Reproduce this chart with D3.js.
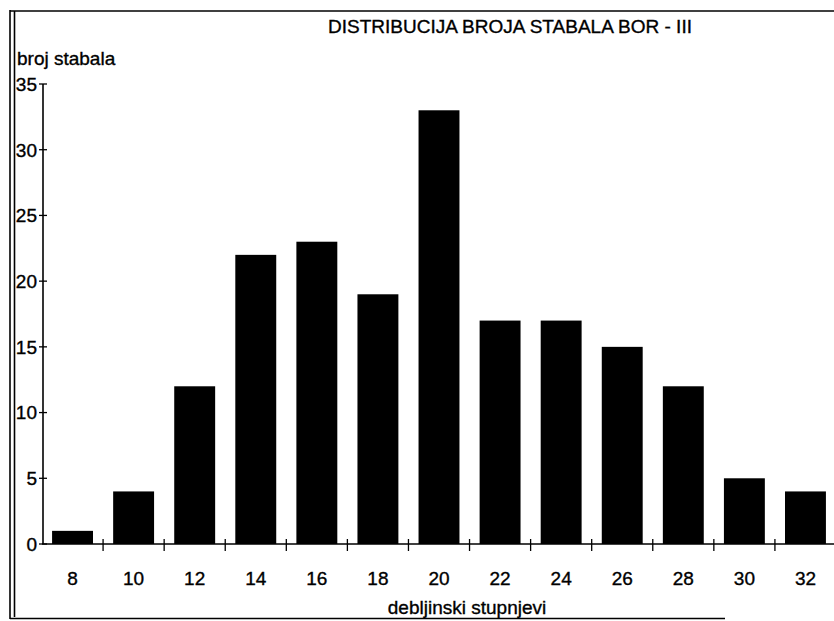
<!DOCTYPE html>
<html>
<head>
<meta charset="utf-8">
<script src="https://cdn.jsdelivr.net/npm/d3@7"></script>
<style>
  body { margin: 0; background: #fff; }
  text { font-family: "Liberation Sans", Arial, sans-serif; fill: #000; stroke: #000; stroke-width: 0.35px; }
</style>
</head>
<body>
<div id="chart"></div>
<script>
// data
const categories = ['8', '10', '12', '14', '16', '18', '20', '22', '24', '26', '28', '30', '32'];
const counts = [1, 4, 12, 22, 23, 19, 33, 17, 17, 15, 12, 5, 4];
const yTicks = [0, 5, 10, 15, 20, 25, 30, 35];

const titleText = 'DISTRIBUCIJA BROJA STABALA BOR - III';
const yLabel = 'broj stabala';
const xLabel = 'debljinski stupnjevi';

const width = 834, height = 621;
const svg = d3.select('#chart').append('svg')
    .attr('width', width).attr('height', height);

// frame, double line on the left like the scan
const frame = svg.append('g').attr('stroke', '#000').attr('stroke-width', 1.6);
frame.append('line').attr('x1', 10).attr('y1', 10).attr('x2', 10).attr('y2', 619);
frame.append('line').attr('x1', 14.5).attr('y1', 11).attr('x2', 14.5).attr('y2', 617);
frame.append('line').attr('x1', 10).attr('y1', 11).attr('x2', 834).attr('y2', 11);
frame.append('line').attr('x1', 10).attr('y1', 618.5).attr('x2', 725).attr('y2', 618.5);

const x = d3.scaleBand().domain(categories).range([42, 836])
    .paddingInner(0.33).paddingOuter(0.165);
const y = d3.scaleLinear().domain([0, 35]).range([544, 84]);

// bars
svg.selectAll('.bar')
    .data(counts)
    .enter().append('rect')
    .attr('class', 'bar')
    .attr('x', (d, i) => x(categories[i]))
    .attr('y', d => y(d))
    .attr('width', x.bandwidth())
    .attr('height', d => y(0) - y(d))
    .attr('fill', '#000');

// y axis
const yAxis = svg.append('g').attr('transform', 'translate(43,0)');
yAxis.append('line').attr('x1', 0).attr('x2', 0).attr('y1', y(35)).attr('y2', y(0))
    .attr('stroke', '#000').attr('stroke-width', 1.6);
yAxis.selectAll('.ytick').data(yTicks).enter().append('line')
    .attr('x1', -4).attr('x2', 4)
    .attr('y1', d => y(d)).attr('y2', d => y(d))
    .attr('stroke', '#000').attr('stroke-width', 1.3);
yAxis.selectAll('.ylab').data(yTicks).enter().append('text')
    .attr('x', -6).attr('y', d => y(d)).attr('dy', '0.36em')
    .attr('text-anchor', 'end').attr('font-size', 19)
    .text(d => d);

// x axis, ticks sit on the category boundaries
const step = x.step();
const bounds = d3.range(1, categories.length).map(i => 42 + i * step);
svg.append('line').attr('x1', 42).attr('x2', 834).attr('y1', y(0)).attr('y2', y(0))
    .attr('stroke', '#000').attr('stroke-width', 1.6);
svg.selectAll('.xtick').data(bounds).enter().append('line')
    .attr('x1', d => d).attr('x2', d => d)
    .attr('y1', y(0) - 5).attr('y2', y(0) + 7)
    .attr('stroke', '#000').attr('stroke-width', 1.3);
svg.selectAll('.xlab').data(categories).enter().append('text')
    .attr('x', d => x(d) + x.bandwidth() / 2)
    .attr('y', 585)
    .attr('text-anchor', 'middle').attr('font-size', 19)
    .text(d => d);

// titles
svg.append('text').attr('x', 510).attr('y', 33).attr('text-anchor', 'middle')
    .attr('font-size', 19).text(titleText);
svg.append('text').attr('x', 17).attr('y', 65).attr('font-size', 19).text(yLabel);
svg.append('text').attr('x', 467).attr('y', 614).attr('text-anchor', 'middle')
    .attr('font-size', 19).text(xLabel);
</script>
</body>
</html>
